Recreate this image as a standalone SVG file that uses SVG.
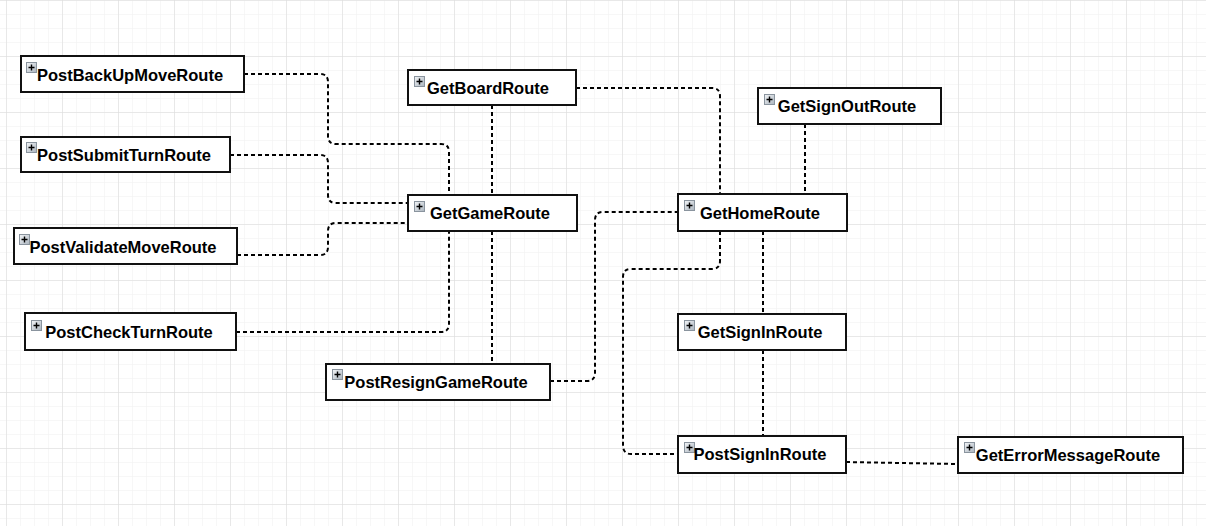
<svg xmlns="http://www.w3.org/2000/svg" width="1206" height="526" viewBox="0 0 1206 526">
<defs>
<pattern id="minor" width="14" height="14" patternUnits="userSpaceOnUse" x="6" y="0">
<path d="M0 0H14M0 0V14" fill="none" stroke="#f0f0f0" stroke-width="1"/>
</pattern>
<pattern id="major" width="56" height="56" patternUnits="userSpaceOnUse" x="6" y="0">
<path d="M0 0H56M0 0V56" fill="none" stroke="#dadada" stroke-width="1"/>
</pattern>
<linearGradient id="ig" x1="0" y1="0" x2="1" y2="1">
<stop offset="0" stop-color="#f4f6f8"/>
<stop offset="1" stop-color="#a9b3bd"/>
</linearGradient>
<g id="icon">
<rect x="0.5" y="0.5" width="10" height="10" fill="url(#ig)" stroke="#8a949e" stroke-width="1"/>
<path d="M2.5 5.5H8.5M5.5 2.5V8.5" stroke="#000" stroke-width="1.4"/>
</g>
</defs>
<style>
.box{fill:#fff;stroke:#111;stroke-width:2}
.lbl{font-family:"Liberation Sans",Arial,sans-serif;font-weight:bold;font-size:16.5px;fill:#000;text-anchor:middle}
.con{fill:none;stroke:#000;stroke-width:2;stroke-dasharray:4 3}
</style>
<rect width="1206" height="526" fill="#fff"/>
<rect width="1206" height="526" fill="url(#minor)"/>
<rect width="1206" height="526" fill="url(#major)"/>

<g id="connectors">
<path class="con" d="M244 74H320Q328 74 328 82V136Q328 144 336 144H441Q449 144 449 152V195"/>
<path class="con" d="M230 155H320Q328 155 328 163V195Q328 203 336 203H408"/>
<path class="con" d="M237 255H320Q328 255 328 247V231Q328 223 336 223H408"/>
<path class="con" d="M236 332H441Q449 332 449 324V231"/>
<path class="con" d="M492 105V195"/>
<path class="con" d="M492 231V364"/>
<path class="con" d="M550 381H587Q595 381 595 373V220Q595 212 603 212H678"/>
<path class="con" d="M576 88H712Q720 88 720 96V194"/>
<path class="con" d="M805 124V194"/>
<path class="con" d="M720 231V261Q720 269 712 269H631Q623 269 623 277V445Q623 454 631 454H678"/>
<path class="con" d="M763 231V314"/>
<path class="con" d="M763 350V436"/>
<path class="con" d="M846 462L957 464"/>
</g>

<g id="PostBackUpMoveRoute">
<rect class="box" x="21" y="56" width="223" height="36"/>
<use href="#icon" x="26" y="62"/>
<text class="lbl" x="130" y="81">PostBackUpMoveRoute</text>
</g>
<g id="PostSubmitTurnRoute">
<rect class="box" x="21" y="137" width="209" height="35"/>
<use href="#icon" x="26" y="142"/>
<text class="lbl" x="124" y="161">PostSubmitTurnRoute</text>
</g>
<g id="PostValidateMoveRoute">
<rect class="box" x="14" y="228" width="223" height="36"/>
<use href="#icon" x="19" y="234"/>
<text class="lbl" x="123" y="253">PostValidateMoveRoute</text>
</g>
<g id="PostCheckTurnRoute">
<rect class="box" x="25" y="313" width="211" height="37"/>
<use href="#icon" x="31" y="320"/>
<text class="lbl" x="129" y="338">PostCheckTurnRoute</text>
</g>
<g id="GetBoardRoute">
<rect class="box" x="408" y="70" width="168" height="35"/>
<use href="#icon" x="414" y="76"/>
<text class="lbl" x="488" y="94">GetBoardRoute</text>
</g>
<g id="GetGameRoute">
<rect class="box" x="408" y="195" width="169" height="36"/>
<use href="#icon" x="414" y="201"/>
<text class="lbl" x="490" y="219">GetGameRoute</text>
</g>
<g id="PostResignGameRoute">
<rect class="box" x="326" y="364" width="224" height="36"/>
<use href="#icon" x="332" y="369"/>
<text class="lbl" x="436" y="388">PostResignGameRoute</text>
</g>
<g id="GetSignOutRoute">
<rect class="box" x="758" y="88" width="183" height="36"/>
<use href="#icon" x="764" y="94"/>
<text class="lbl" x="847" y="112">GetSignOutRoute</text>
</g>
<g id="GetHomeRoute">
<rect class="box" x="678" y="194" width="169" height="37"/>
<use href="#icon" x="684" y="200"/>
<text class="lbl" x="760" y="219">GetHomeRoute</text>
</g>
<g id="GetSignInRoute">
<rect class="box" x="678" y="314" width="168" height="36"/>
<use href="#icon" x="684" y="320"/>
<text class="lbl" x="760" y="338">GetSignInRoute</text>
</g>
<g id="PostSignInRoute">
<rect class="box" x="678" y="436" width="168" height="37"/>
<use href="#icon" x="684" y="442"/>
<text class="lbl" x="760" y="460">PostSignInRoute</text>
</g>
<g id="GetErrorMessageRoute">
<rect class="box" x="958" y="437" width="225" height="36"/>
<use href="#icon" x="964" y="442"/>
<text class="lbl" x="1068" y="461">GetErrorMessageRoute</text>
</g>
</svg>
